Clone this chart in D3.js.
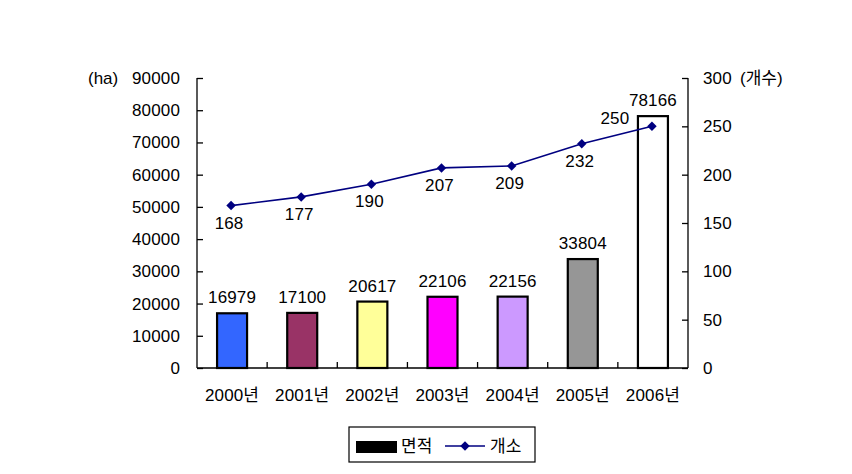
<!DOCTYPE html>
<html lang="ko">
<head>
<meta charset="UTF-8">
<title>면적 / 개소</title>
<script src="https://d3js.org/d3.v7.min.js"></script>
<style>
    body { margin: 0; background: #fff; }
    svg text { font-family: "Liberation Sans", Arial, "Noto Sans CJK KR", sans-serif; font-size: 17px; fill: #000; }
    .num { letter-spacing: 0.15px; }
    .axis path, .axis line { stroke: #000; stroke-width: 1.3px; }
</style>
</head>
<body>
<svg width="852" height="474"></svg>
<script>
const years = ["2000년", "2001년", "2002년", "2003년", "2004년", "2005년", "2006년"];
const area = [16979, 17100, 20617, 22106, 22156, 33804, 78166];
const counts = [168, 177, 190, 207, 209, 232, 250];
const barColors = ["#3366FF", "#993366", "#FFFF99", "#FF00FF", "#CC99FF", "#969696", "#FFFFFF"];
const leftTicks = d3.range(0, 90001, 10000);
const rightTicks = d3.range(0, 301, 50);

const svg = d3.select("svg");
const plotLeft = 197, plotRight = 688, plotTop = 78, plotBottom = 368;

const x = d3.scaleBand().domain(years).range([plotLeft, plotRight]);
const yL = d3.scaleLinear().domain([0, 90000]).range([plotBottom, plotTop]);
const yR = d3.scaleLinear().domain([0, 300]).range([plotBottom, plotTop]);

// left axis (ticks inside)
const gl = svg.append("g").attr("class", "axis")
    .attr("transform", `translate(${plotLeft},0)`)
    .call(d3.axisRight(yL).tickValues(leftTicks).tickSize(6).tickSizeOuter(0).tickFormat(d3.format("d")));
gl.selectAll("text").attr("x", -17).attr("text-anchor", "end").attr("class", "num");
gl.select(".domain").attr("d", `M0,${plotTop}V${plotBottom}`);

// right axis (ticks inside)
const gr = svg.append("g").attr("class", "axis")
    .attr("transform", `translate(${plotRight},0)`)
    .call(d3.axisLeft(yR).tickValues(rightTicks).tickSize(6).tickSizeOuter(0));
gr.selectAll("text").attr("x", 15).attr("text-anchor", "start").attr("class", "num");
gr.select(".domain").attr("d", `M0,${plotTop}V${plotBottom}`);

// bottom axis
const gb = svg.append("g").attr("class", "axis")
    .attr("transform", `translate(0,${plotBottom})`);
gb.append("line").attr("x1", plotLeft).attr("x2", plotRight).attr("y1", 0).attr("y2", 0);
gb.selectAll(".sep").data(years.slice(1)).join("line")
    .attr("x1", d => x(d)).attr("x2", d => x(d)).attr("y1", 0).attr("y2", -6);
gb.selectAll(".cat").data(years).join("text")
    .attr("class", "num")
    .attr("x", d => x(d) + x.bandwidth() / 2)
    .attr("y", 33)
    .attr("text-anchor", "middle")
    .text(d => d);

svg.append("text").attr("x", 88).attr("y", 84).text("(ha)");
svg.append("text").attr("x", 740).attr("y", 84).text("(개수)");

// bars
const bw = 30;
svg.selectAll(".bar").data(area).join("rect")
    .attr("x", (d, i) => x(years[i]) + x.bandwidth() / 2 - bw / 2)
    .attr("y", d => yL(d))
    .attr("width", bw)
    .attr("height", d => plotBottom - yL(d))
    .attr("fill", (d, i) => barColors[i])
    .attr("stroke", "#000")
    .attr("stroke-width", 2.2);

svg.selectAll(".barlab").data(area).join("text")
    .attr("class", "num")
    .attr("x", (d, i) => x(years[i]) + x.bandwidth() / 2)
    .attr("y", d => yL(d) - 10)
    .attr("text-anchor", "middle")
    .text(d => d);

// line
const cx = (d, i) => x(years[i]) + x.bandwidth() / 2 - 1;
const line = d3.line().x((d, i) => cx(d, i)).y(d => yR(d));
svg.append("path").datum(counts)
    .attr("d", line)
    .attr("fill", "none")
    .attr("stroke", "#000080")
    .attr("stroke-width", 1.6);

// square rotated 45deg -> even diamond
const diamond = d3.symbol().type(d3.symbolSquare).size(45);
svg.selectAll(".pt").data(counts).join("path")
    .attr("d", diamond)
    .attr("transform", (d, i) => `translate(${cx(d, i)},${yR(d)}) rotate(45)`)
    .attr("fill", "#000080");

svg.selectAll(".ptlab").data(counts).join("text")
    .attr("class", "num")
    .attr("x", (d, i) => i === 6 ? cx(d, i) - 37 : cx(d, i) - 2)
    .attr("y", (d, i) => i === 6 ? yR(d) - 2 : yR(d) + 23)
    .attr("text-anchor", "middle")
    .text(d => d);

// legend
const lg = svg.append("g").attr("transform", "translate(349,427)");
lg.append("rect").attr("width", 186).attr("height", 35)
    .attr("fill", "#fff").attr("stroke", "#000").attr("stroke-width", 1.2);
lg.append("rect").attr("x", 7).attr("y", 14).attr("width", 41).attr("height", 12).attr("fill", "#000");
lg.append("text").attr("x", 52).attr("y", 25).text("면적");
lg.append("line").attr("x1", 96).attr("x2", 136).attr("y1", 19).attr("y2", 19)
    .attr("stroke", "#000080").attr("stroke-width", 1.6);
lg.append("path").attr("d", diamond).attr("transform", "translate(116,19) rotate(45)").attr("fill", "#000080");
lg.append("text").attr("x", 141).attr("y", 25).text("개소");
</script>
</body>
</html>
